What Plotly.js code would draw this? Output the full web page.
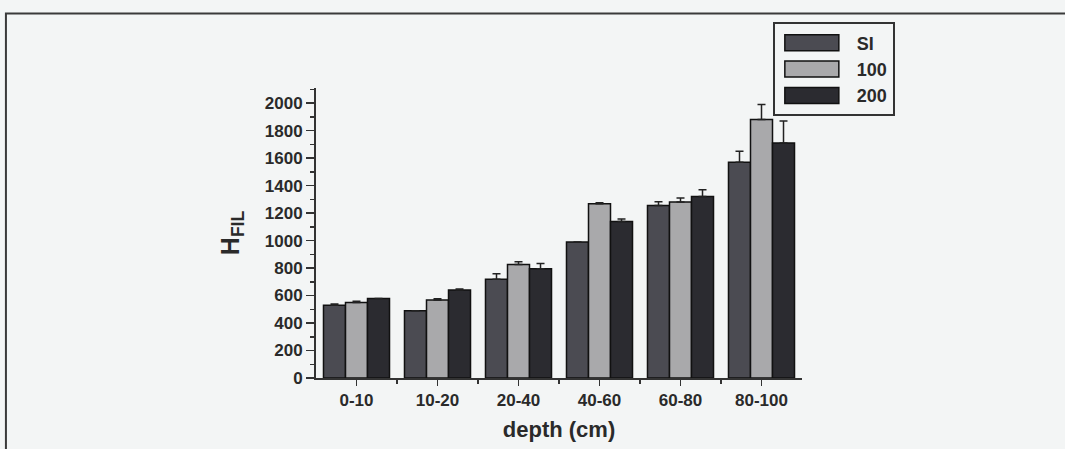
<!DOCTYPE html>
<html><head><meta charset="utf-8">
<script src="https://cdn.plot.ly/plotly-3.0.1.min.js"></script>
<style>html,body{margin:0;padding:0;background:#f3f5f5;}#chart{width:1065px;height:449px;}</style>
</head><body><div id="chart"></div>
<script>
const categories = ["0-10","10-20","20-40","40-60","60-80","80-100"];
const seriesNames = ["SI","100","200"];
const valuesSI  = [530, 490, 718, 990, 1255, 1570];
const values100 = [550, 568, 825, 1268, 1280, 1880];
const values200 = [578, 640, 795, 1138, 1320, 1710];
const errSI  = [8, 0, 40, 0, 28, 80];
const err100 = [8, 8, 20, 8, 30, 110];
const err200 = [0, 8, 38, 18, 50, 160];
const yTicks = [0,200,400,600,800,1000,1200,1400,1600,1800,2000];

const colors = ["#4b4b52","#a9a9ab","#2b2b30"];
const xIdx = categories.map((c,i)=>i);
const allVals = [valuesSI, values100, values200];
const allErr = [errSI, err100, err200];

const traces = seriesNames.map((n,k)=>({
  type:'bar', name:n, x:xIdx, y:allVals[k],
  marker:{color:colors[k], line:{color:'#111', width:1.5}},
  error_y:{type:'data', symmetric:false, array:allErr[k], arrayminus:allErr[k].map(()=>0),
           color:'#222', thickness:1.5, width:4}
}));

const font = {family:"Liberation Sans, Arial, sans-serif", color:"#2a2a2a", weight:"bold"};

const layout = {
  width:1065, height:449,
  paper_bgcolor:"#f3f5f5", plot_bgcolor:"rgba(0,0,0,0)",
  margin:{l:316, r:263, t:88, b:71, pad:0},
  barmode:'group', bargap:0.185, bargroupgap:0,
  showlegend:true,
  legend:{x:0.94, y:1.226, xanchor:'left', yanchor:'top', bgcolor:'#f3f5f5',
          bordercolor:'#333', borderwidth:2, font:Object.assign({}, font, {size:18}),
          tracegroupgap:0, itemwidth:72},
  xaxis:{
    range:[-0.5,5.5], tickmode:'array', tickvals:xIdx, ticktext:categories,
    showgrid:false, zeroline:false, showline:true, linecolor:'#333', linewidth:2,
    ticks:'outside', ticklen:6, tickwidth:1.5, tickcolor:'#333',
    minor:{tickmode:'array', tickvals:[0.5,1.5,2.5,3.5,4.5], ticks:'outside', ticklen:4, tickwidth:1.5, tickcolor:'#333', showgrid:false},
    tickfont:Object.assign({}, font, {size:17}),
    title:{text:"depth (cm)", font:Object.assign({}, font, {size:22}), standoff:12}
  },
  yaxis:{
    range:[0,2110], tickmode:'array', tickvals:yTicks,
    showgrid:false, zeroline:false, showline:true, linecolor:'#333', linewidth:2,
    ticks:'outside', ticklen:8, tickwidth:1.5, tickcolor:'#333',
    minor:{dtick:100, tick0:0, ticks:'outside', ticklen:4, tickwidth:1.5, tickcolor:'#333', showgrid:false},
    tickfont:Object.assign({}, font, {size:17}),
    title:{text:"H<sub>FIL</sub>", font:Object.assign({}, font, {size:25}), standoff:18}
  },
  shapes:[{type:'rect', xref:'paper', yref:'paper', x0:-0.638, x1:1.56, y0:-0.3, y1:1.257,
           line:{color:'#3a3a3a', width:2}, fillcolor:'rgba(0,0,0,0)', layer:'below'}]
};
Plotly.newPlot('chart', traces, layout, {displayModeBar:false, staticPlot:true}).then(gd=>{
  // widen the legend swatches to look like the reference's long boxes
  gd.querySelectorAll('.legend .legendpoints path').forEach(p=>{
    p.setAttribute('d','M-31,8H23V-8H-31Z');
  });
});
</script></body></html>
